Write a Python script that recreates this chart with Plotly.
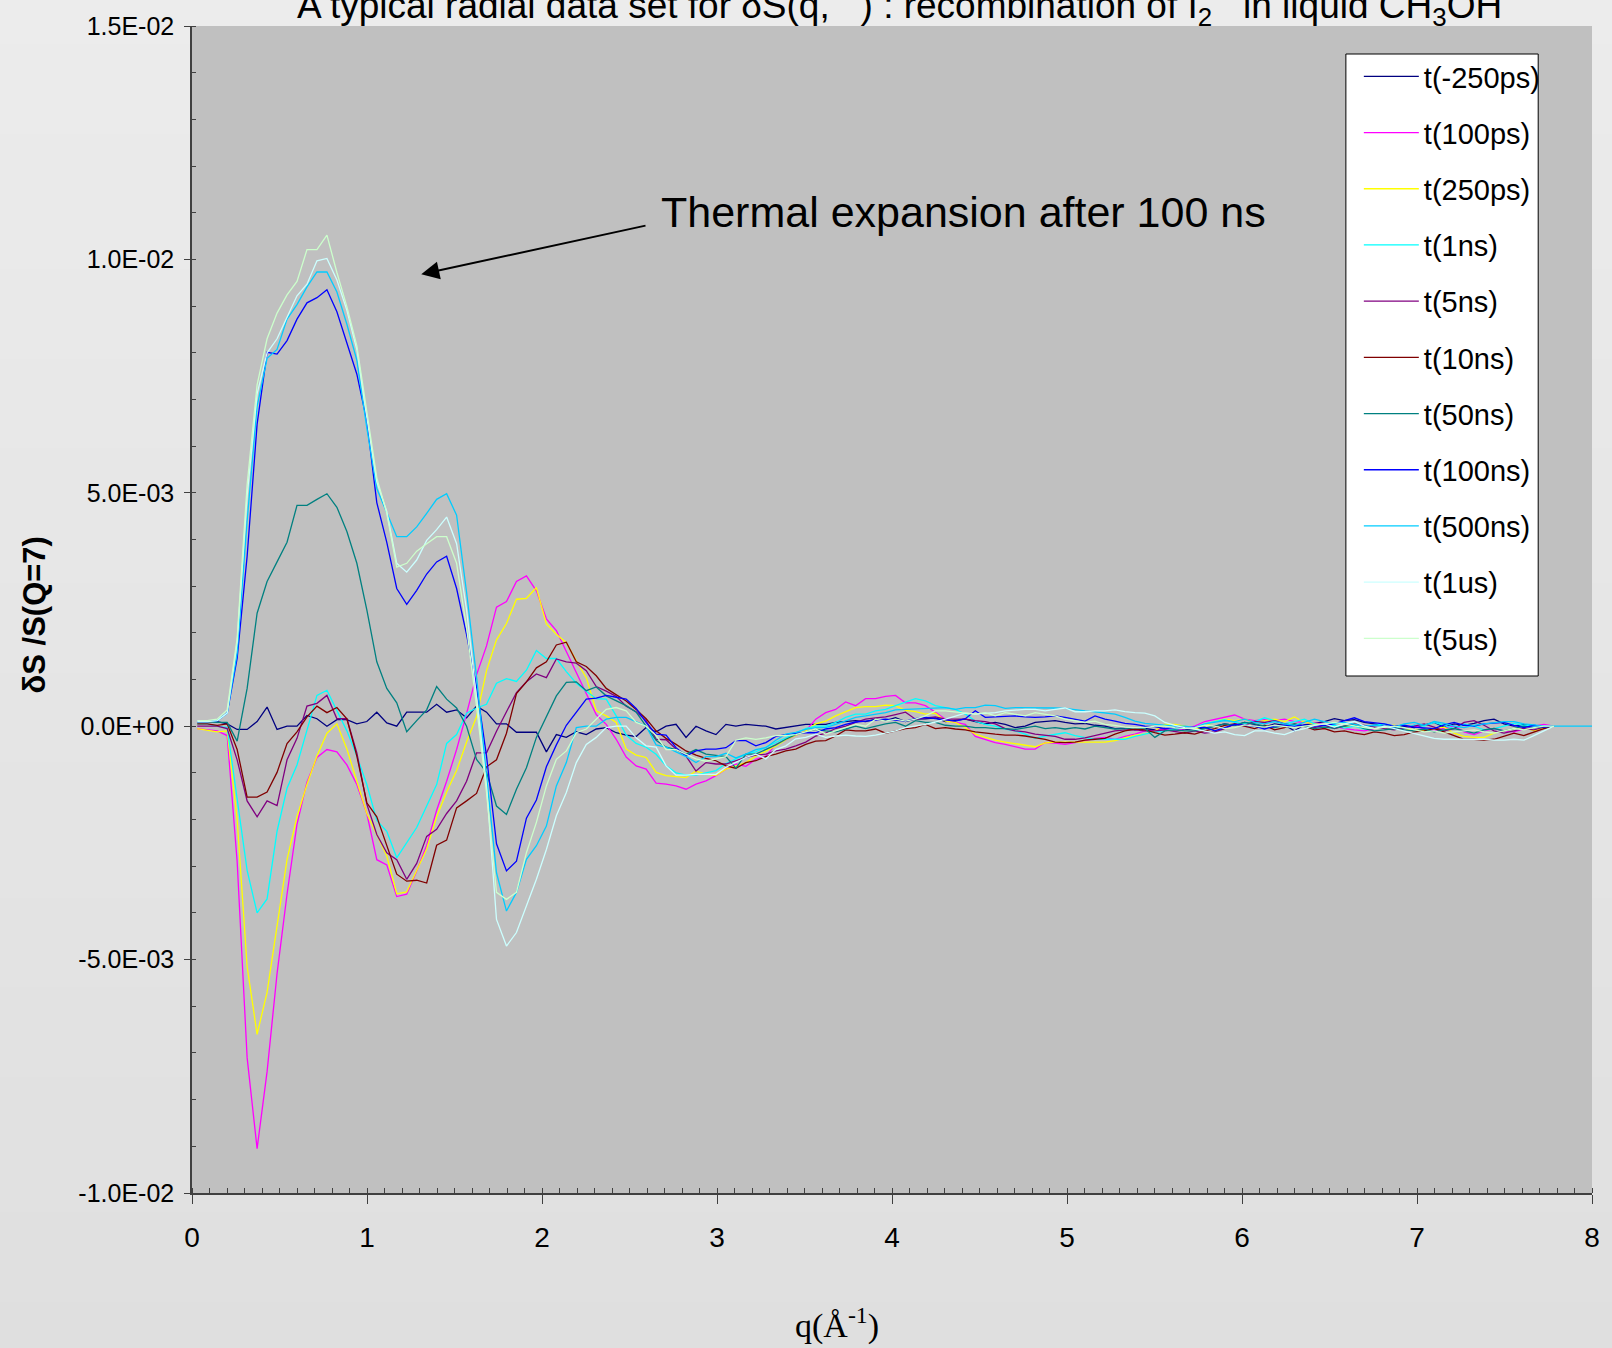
import plotly.graph_objects as go

# q grid (Å^-1)
q = [0.03, 0.087, 0.144, 0.201, 0.258, 0.315, 0.372, 0.429, 0.486, 0.543,
     0.6, 0.657, 0.714, 0.771, 0.828, 0.885, 0.942, 0.999, 1.056, 1.113,
     1.17, 1.227, 1.284, 1.341, 1.398, 1.455, 1.512, 1.569, 1.626, 1.683,
     1.74, 1.797, 1.854, 1.911, 1.968, 2.025, 2.082, 2.139, 2.196, 2.253,
     2.31, 2.367, 2.424, 2.481, 2.538, 2.595, 2.652, 2.709, 2.766, 2.823,
     2.88, 2.937, 2.994, 3.051, 3.108, 3.165, 3.222, 3.279, 3.336, 3.393,
     3.45, 3.507, 3.564, 3.621, 3.678, 3.735, 3.792, 3.849, 3.906, 3.963,
     4.02, 4.077, 4.134, 4.191, 4.248, 4.305, 4.362, 4.419, 4.476, 4.533,
     4.59, 4.647, 4.704, 4.761, 4.818, 4.875, 4.932, 4.989, 5.046, 5.103,
     5.16, 5.217, 5.274, 5.331, 5.388, 5.445, 5.502, 5.559, 5.616, 5.673,
     5.73, 5.787, 5.844, 5.901, 5.958, 6.015, 6.072, 6.129, 6.186, 6.243,
     6.3, 6.357, 6.414, 6.471, 6.528, 6.585, 6.642, 6.699, 6.756, 6.813,
     6.87, 6.927, 6.984, 7.041, 7.098, 7.155, 7.212, 7.269, 7.326, 7.383,
     7.44, 7.497, 7.554, 7.611, 7.668, 7.725, 7.782]
q_ext = [7.839, 7.896, 7.953, 8.0]   # flat tail of the t(500ns) series

# values of dS/S(Q=7) in units of 1E-03
s_m250ps = [0.1, 0.1, 0.1, 0.05, -0.07, -0.07, 0.1, 0.41, -0.07, 0.0,
            0.0, 0.23, 0.16, 0.0, 0.14, 0.14, 0.05, 0.1, 0.3, 0.07,
            0.0, 0.3, 0.3, 0.3, 0.47, 0.3, 0.35, 0.18, 0.43, 0.3,
            0.05, 0.05, -0.13, -0.13, -0.13, -0.55, -0.18, -0.24, -0.12, -0.18,
            -0.06, -0.03, -0.14, -0.19, -0.22, -0.03, -0.12, 0.0, 0.04, -0.24,
            0.0, -0.1, -0.18, 0.04, 0.0, 0.04, 0.02, 0.0, -0.06, -0.03,
            0.0, 0.04, 0.04, 0.04, 0.08, 0.1, 0.12, 0.1, 0.15, 0.12,
            0.18, 0.1, 0.15, 0.16, 0.18, 0.1, 0.12, 0.15, 0.1, 0.05,
            0.08, 0.04, -0.03, 0.0, 0.08, 0.1, 0.12, 0.08, 0.05, 0.06,
            0.02, 0.0, -0.05, -0.04, -0.08, -0.05, -0.08, -0.05, -0.1, -0.07,
            -0.06, -0.04, 0.0, 0.05, 0.02, 0.08, 0.04, -0.02, 0.05, 0.02,
            -0.1, 0.03, 0.06, 0.1, 0.16, 0.12, 0.14, 0.08, 0.05, 0.0,
            -0.02, 0.0, -0.03, 0.02, 0.08, -0.02, 0.05, 0.02, 0.06, 0.12,
            0.15, 0.05, 0.0, 0.04, -0.02, -0.03, 0.0]
s_100ps = [-0.05, -0.08, -0.1, -0.2, -2.9, -7.1, -9.05, -7.4, -5.3, -3.6,
           -2.1, -1.2, -0.67, -0.5, -0.55, -0.83, -1.25, -1.87, -2.86, -2.97,
           -3.65, -3.6, -3.1, -2.55, -1.8, -1.18, -0.5, 0.27, 1.1, 1.72,
           2.55, 2.67, 3.1, 3.22, 2.9, 2.3, 2.05, 1.6, 1.15, 0.7,
           0.25, 0.04, -0.28, -0.66, -0.85, -0.92, -1.22, -1.24, -1.28, -1.35,
           -1.24, -1.17, -1.06, -0.92, -0.81, -0.86, -0.71, -0.64, -0.39, -0.29,
           -0.19, -0.1, 0.15, 0.29, 0.36, 0.52, 0.44, 0.59, 0.59, 0.64,
           0.66, 0.5, 0.5, 0.44, 0.3, 0.15, 0.08, 0.04, -0.22, -0.28,
           -0.35, -0.39, -0.44, -0.49, -0.49, -0.35, -0.36, -0.39, -0.35, -0.31,
           -0.26, -0.24, -0.28, -0.22, -0.17, -0.1, -0.09, -0.06, -0.09, -0.05,
           0.0, 0.1, 0.15, 0.2, 0.24, 0.15, 0.12, 0.14, 0.12, 0.15,
           0.1, 0.08, 0.06, 0.05, 0.0, -0.05, -0.08, -0.1, -0.05, 0.0,
           -0.05, -0.08, 0.02, -0.06, -0.1, -0.04, 0.0, -0.12, -0.18, -0.1,
           -0.05, -0.1, -0.12, -0.06, 0.0, 0.04, 0.0]
s_250ps = [-0.05, -0.08, -0.12, -0.1, -2.0, -5.15, -6.6, -5.7, -4.3, -2.86,
           -1.94, -1.25, -0.64, -0.15, 0.05, -0.49, -1.18, -1.87, -2.32, -2.78,
           -3.59, -3.55, -3.09, -2.63, -1.94, -1.41, -0.95, -0.34, 0.2, 1.19,
           1.85, 2.2, 2.72, 2.74, 2.97, 2.19, 1.97, 1.79, 1.4, 1.04,
           0.33, 0.22, 0.08, -0.49, -0.62, -0.67, -0.99, -1.06, -1.08, -1.1,
           -0.96, -1.03, -1.05, -0.92, -0.85, -0.78, -0.64, -0.53, -0.42, -0.29,
           -0.19, -0.1, 0.05, 0.11, 0.22, 0.31, 0.4, 0.42, 0.42, 0.45,
           0.44, 0.34, 0.31, 0.26, 0.28, 0.11, 0.08, -0.03, -0.17, -0.24,
           -0.3, -0.34, -0.37, -0.41, -0.44, -0.36, -0.34, -0.34, -0.34, -0.34,
           -0.35, -0.34, -0.31, -0.25, -0.19, -0.17, -0.1, 0.04, 0.04, 0.0,
           -0.06, 0.0, 0.1, 0.15, 0.12, 0.15, 0.08, 0.12, 0.15, 0.1,
           0.2, 0.08, 0.05, 0.02, 0.0, -0.03, 0.05, 0.0, -0.05, -0.02,
           0.02, -0.05, -0.08, -0.1, -0.05, -0.02, -0.15, -0.22, -0.24, -0.24,
           -0.15, -0.1, -0.05, -0.02, -0.1, -0.04, 0.0]
s_1ns = [0.05, 0.05, 0.0, -0.03, -1.56, -3.09, -4.0, -3.7, -2.25, -1.33,
         -0.83, -0.1, 0.66, 0.77, 0.35, -0.1, -0.64, -1.25, -2.02, -2.25,
         -2.82, -2.48, -2.17, -1.71, -1.25, -0.37, -0.18, 0.28, 0.39, 0.47,
         0.92, 1.02, 0.96, 1.2, 1.62, 1.45, 1.45, 1.17, 0.92, 0.75,
         0.59, 0.58, 0.22, -0.19, -0.37, -0.45, -0.6, -0.85, -1.0, -1.05,
         -1.05, -1.0, -0.95, -0.8, -0.7, -0.6, -0.55, -0.45, -0.35, -0.25,
         -0.15, -0.05, 0.0, 0.0, 0.08, 0.19, 0.26, 0.26, 0.33, 0.36,
         0.44, 0.51, 0.59, 0.54, 0.44, 0.4, 0.36, 0.26, 0.11, 0.04,
         0.0, -0.06, -0.1, -0.17, -0.26, -0.21, -0.17, -0.14, -0.2, -0.24,
         -0.28, -0.28, -0.28, -0.28, -0.22, -0.17, -0.12, -0.1, -0.06, -0.03,
         -0.03, 0.05, 0.1, 0.14, 0.08, 0.05, 0.1, 0.18, 0.12, 0.05,
         0.1, 0.15, 0.05, 0.0, 0.02, -0.04, 0.0, -0.06, 0.02, 0.05,
         0.0, -0.05, 0.03, 0.0, 0.08, 0.02, -0.05, 0.05, 0.0, -0.08,
         -0.05, 0.0, 0.06, 0.02, 0.0, -0.02, 0.0]
s_5ns = [0.0, 0.0, 0.0, -0.05, -0.72, -1.6, -1.94, -1.6, -1.7, -0.72,
         -0.26, 0.43, 0.49, 0.66, 0.16, 0.16, -0.57, -1.67, -2.32, -2.71,
         -2.86, -3.28, -2.94, -2.36, -2.21, -1.87, -1.6, -1.18, -0.57, -0.57,
         -0.11, 0.31, 0.72, 0.95, 1.12, 1.04, 1.44, 1.38, 1.35, 1.19,
         0.85, 0.75, 0.64, 0.43, 0.31, 0.12, -0.28, -0.29, -0.49, -0.64,
         -0.96, -0.78, -0.81, -0.81, -0.74, -0.67, -0.62, -0.6, -0.53, -0.49,
         -0.42, -0.34, -0.21, -0.15, -0.05, 0.0, 0.08, 0.15, 0.18, 0.2,
         0.25, 0.3, 0.15, 0.18, 0.2, 0.15, 0.15, 0.15, 0.12, 0.1,
         0.05, -0.05, -0.1, -0.12, -0.17, -0.2, -0.22, -0.28, -0.28, -0.25,
         -0.2, -0.15, -0.1, -0.08, -0.08, -0.1, -0.1, -0.08, -0.12, -0.15,
         -0.1, -0.15, -0.12, -0.05, 0.05, 0.02, 0.1, 0.08, 0.12, 0.05,
         0.02, 0.0, -0.03, 0.02, -0.05, 0.0, 0.05, 0.02, -0.02, -0.05,
         -0.08, -0.03, 0.0, 0.05, -0.02, -0.1, -0.05, 0.08, 0.12, 0.02,
         -0.1, -0.15, -0.1, -0.05, -0.08, -0.02, 0.0]
s_10ns = [0.05, 0.05, 0.02, 0.05, -0.5, -1.52, -1.52, -1.41, -0.99, -0.37,
          -0.12, 0.2, 0.43, 0.29, 0.4, 0.16, -0.64, -1.64, -1.94, -2.55,
          -3.17, -3.32, -3.3, -3.36, -2.55, -2.44, -1.75, -1.6, -1.44, -0.87,
          -0.72, -0.15, 0.7, 0.95, 1.25, 1.38, 1.74, 1.8, 1.38, 1.28,
          1.08, 0.81, 0.67, 0.54, 0.36, 0.16, -0.1, -0.26, -0.39, -0.53,
          -0.62, -0.69, -0.74, -0.85, -0.9, -0.78, -0.74, -0.65, -0.6, -0.53,
          -0.49, -0.39, -0.32, -0.31, -0.21, -0.08, -0.1, -0.1, -0.06, -0.15,
          -0.1, -0.05, -0.03, 0.04, -0.05, -0.03, -0.06, -0.08, -0.12, -0.15,
          -0.17, -0.19, -0.19, -0.21, -0.24, -0.28, -0.34, -0.35, -0.34, -0.3,
          -0.28, -0.26, -0.17, -0.1, -0.06, -0.08, -0.14, -0.19, -0.17, -0.14,
          -0.17, -0.1, -0.05, 0.02, 0.05, 0.0, -0.05, 0.02, -0.08, -0.03,
          0.05, 0.0, -0.08, -0.05, -0.12, -0.1, -0.15, -0.18, -0.12, -0.15,
          -0.2, -0.18, -0.12, -0.1, -0.05, -0.12, -0.2, -0.28, -0.28, -0.3,
          -0.28, -0.22, -0.15, -0.2, -0.12, -0.05, 0.0]
s_50ns = [0.1, 0.1, 0.08, 0.08, -0.32, 0.81, 2.42, 3.1, 3.52, 3.94,
          4.73, 4.73, 4.86, 4.98, 4.69, 4.17, 3.49, 2.49, 1.38, 0.81,
          0.5, -0.12, 0.12, 0.35, 0.85, 0.58, 0.39, 0.0, -0.71, -0.99,
          -1.71, -1.89, -1.35, -0.89, -0.24, 0.22, 0.65, 0.94, 0.95, 0.76,
          0.84, 0.65, 0.54, 0.44, 0.3, 0.0, -0.3, -0.45, -0.5, -0.6,
          -0.5, -0.6, -0.62, -0.65, -0.9, -0.6, -0.6, -0.5, -0.4, -0.28,
          -0.18, -0.12, -0.07, -0.1, -0.12, -0.06, 0.0, -0.05, 0.0, 0.05,
          0.08, 0.0, 0.12, 0.08, 0.08, 0.02, 0.0, 0.0, -0.03, -0.03,
          -0.05, -0.05, -0.07, -0.03, 0.0, -0.05, -0.03, -0.06, -0.03, -0.06,
          0.0, -0.03, -0.06, -0.05, -0.03, -0.05, -0.24, -0.1, -0.08, -0.1,
          -0.1, -0.05, 0.0, 0.05, 0.02, 0.08, 0.05, 0.0, -0.03, 0.02,
          0.05, 0.0, -0.05, -0.02, -0.04, 0.0, 0.03, -0.05, -0.1, -0.08,
          -0.05, -0.08, -0.1, -0.06, -0.12, -0.08, -0.05, -0.1, -0.15, -0.08,
          -0.05, -0.1, -0.05, 0.0, -0.03, -0.02, 0.0]
s_100ns = [0.1, 0.1, 0.12, 0.28, 1.46, 3.64, 6.47, 8.01, 7.97, 8.26,
           8.72, 9.07, 9.18, 9.35, 8.88, 8.23, 7.54, 6.54, 4.79, 3.94,
           2.95, 2.61, 2.91, 3.26, 3.52, 3.64, 2.95, 1.96, 0.85, -0.64,
           -2.52, -3.1, -2.89, -1.97, -1.58, -0.87, -0.4, 0.02, 0.3, 0.58,
           0.6, 0.66, 0.62, 0.58, 0.38, 0.08, -0.17, -0.19, -0.46, -0.64,
           -0.53, -0.49, -0.49, -0.46, -0.31, -0.31, -0.42, -0.35, -0.22, -0.19,
           -0.15, -0.14, -0.14, -0.06, -0.03, 0.04, 0.09, 0.11, 0.13, 0.15,
           0.13, 0.11, 0.16, 0.19, 0.16, 0.13, 0.11, 0.16, 0.33, 0.19,
           0.2, 0.22, 0.22, 0.2, 0.19, 0.2, 0.22, 0.19, 0.15, 0.11,
           0.22, 0.15, 0.11, 0.06, 0.04, 0.0, -0.01, -0.05, -0.03, -0.03,
           -0.03, -0.02, -0.1, -0.03, 0.04, 0.02, 0.0, -0.06, 0.0, 0.02,
           0.0, 0.03, 0.0, 0.02, 0.05, 0.12, 0.18, 0.1, 0.08, 0.05,
           0.0, 0.02, -0.02, -0.03, -0.05, 0.03, 0.08, 0.02, 0.0, 0.05,
           0.06, 0.08, 0.02, -0.03, 0.02, -0.02, 0.0]
s_500ns = [0.1, 0.1, 0.12, 0.28, 1.57, 4.4, 6.85, 7.88, 8.07, 8.72,
           9.03, 9.41, 9.73, 9.73, 9.3, 8.61, 7.84, 6.39, 5.09, 4.56,
           4.06, 4.06, 4.27, 4.56, 4.86, 4.98, 4.52, 2.87, 1.05, -1.06,
           -3.14, -3.96, -3.56, -2.85, -2.56, -2.14, -1.28, -0.78, -0.03, 0.0,
           0.0, 0.15, 0.19, 0.19, 0.1, 0.0, -0.4, -0.45, -0.55, -0.65,
           -0.78, -0.65, -0.65, -0.58, -0.68, -0.6, -0.5, -0.46, -0.3, -0.17,
           -0.13, -0.07, -0.03, -0.03, 0.04, 0.11, 0.19, 0.22, 0.26, 0.29,
           0.35, 0.36, 0.38, 0.39, 0.4, 0.4, 0.36, 0.4, 0.4, 0.45,
           0.44, 0.38, 0.4, 0.4, 0.4, 0.4, 0.39, 0.38, 0.35, 0.33,
           0.31, 0.29, 0.26, 0.19, 0.11, 0.06, 0.04, 0.02, 0.0, 0.0,
           -0.03, 0.05, 0.08, 0.12, 0.1, 0.15, 0.08, 0.05, 0.1, 0.05,
           0.02, 0.08, 0.15, 0.1, 0.05, 0.08, 0.04, 0.0, 0.02, 0.0,
           -0.02, 0.05, 0.08, 0.02, 0.1, 0.06, 0.0, -0.03, 0.02, 0.05,
           0.08, 0.1, 0.1, 0.05, 0.03, 0.0, 0.0]
s_500ns_ext = [0.0, 0.0, 0.0, 0.0]
s_1us = [0.1, 0.1, 0.12, 0.28, 1.8, 4.94, 7.12, 8.0, 8.3, 8.76,
         9.22, 9.47, 9.97, 10.02, 9.56, 8.91, 8.07, 6.62, 5.24, 4.6,
         3.49, 3.3, 3.56, 3.98, 4.21, 4.48, 3.91, 2.49, 0.58, -1.28,
         -4.14, -4.71, -4.42, -3.85, -3.28, -2.64, -1.92, -1.42, -0.78, -0.39,
         -0.24, -0.03, 0.0, 0.0, -0.25, -0.42, -0.45, -0.85, -1.05, -1.05,
         -1.03, -1.03, -1.03, -0.88, -0.78, -0.67, -0.6, -0.7, -0.5, -0.42,
         -0.27, -0.24, -0.17, -0.24, -0.21, -0.19, -0.21, -0.22, -0.19, -0.14,
         -0.1, -0.03, 0.0, 0.04, 0.09, 0.15, 0.21, 0.28, 0.26, 0.28,
         0.29, 0.33, 0.35, 0.36, 0.36, 0.33, 0.36, 0.39, 0.31, 0.31,
         0.33, 0.33, 0.35, 0.31, 0.29, 0.28, 0.22, 0.08, 0.02, -0.03,
         -0.06, -0.1, -0.15, -0.12, -0.18, -0.2, -0.1, -0.1, -0.15, -0.18,
         -0.1, -0.05, 0.02, 0.05, -0.02, 0.05, 0.1, 0.0, -0.05, 0.0,
         -0.05, -0.1, -0.15, -0.2, -0.26, -0.28, -0.28, -0.28, -0.28, -0.28,
         -0.3, -0.3, -0.28, -0.3, -0.2, -0.1, 0.0]
s_5us = [0.12, 0.12, 0.15, 0.35, 1.88, 5.17, 7.31, 8.3, 8.85, 9.24,
         9.53, 10.21, 10.21, 10.52, 9.72, 8.99, 8.15, 6.7, 5.32, 4.56,
         3.41, 3.49, 3.75, 3.91, 4.06, 4.06, 3.49, 2.11, 0.43, -1.42,
         -3.56, -3.71, -3.56, -2.71, -2.06, -1.28, -0.71, -0.53, -0.14, -0.06,
         0.16, 0.36, 0.4, 0.33, 0.08, 0.0, -0.2, -0.5, -0.5, -0.6,
         -0.7, -0.75, -0.7, -0.65, -0.3, -0.25, -0.28, -0.25, -0.2, -0.2,
         -0.18, -0.12, -0.06, -0.17, -0.1, -0.03, 0.04, 0.0, 0.15, 0.11,
         0.15, 0.11, 0.15, 0.22, 0.33, 0.33, 0.31, 0.29, 0.26, 0.29,
         0.22, 0.29, 0.26, 0.22, 0.29, 0.26, 0.22, 0.15, 0.11, 0.08,
         0.11, 0.04, 0.02, -0.02, -0.03, -0.03, 0.0, 0.0, -0.03, -0.05,
         -0.03, 0.02, 0.0, -0.05, -0.03, 0.03, 0.0, -0.02, 0.02, 0.0,
         -0.03, 0.0, 0.02, 0.05, 0.08, 0.04, 0.0, -0.03, -0.05, -0.02,
         0.0, -0.03, -0.08, -0.12, -0.1, -0.15, -0.12, -0.1, -0.08, -0.12,
         -0.15, -0.1, -0.05, -0.08, -0.03, 0.0, 0.0]

names = ["t(-250ps)", "t(100ps)", "t(250ps)", "t(1ns)", "t(5ns)", "t(10ns)",
         "t(50ns)", "t(100ns)", "t(500ns)", "t(1us)", "t(5us)"]
colors = ["#000080", "#FF00FF", "#FFFF00", "#00FFFF", "#800080", "#800000",
          "#008080", "#0000FF", "#00CCFF", "#CCFFFF", "#CCFFCC"]
series = [s_m250ps, s_100ps, s_250ps, s_1ns, s_5ns, s_10ns,
          s_50ns, s_100ns, s_500ns, s_1us, s_5us]

ytick_vals = [-10, -5, 0, 5, 10, 15]
ytick_text = ["-1.0E-02", "-5.0E-03", "0.0E+00", "5.0E-03", "1.0E-02", "1.5E-02"]
xtick_vals = [0, 1, 2, 3, 4, 5, 6, 7, 8]

fig = go.Figure()
for nm, col, ys in zip(names, colors, series):
    xs = list(q)
    yv = list(ys)
    if nm == "t(500ns)":
        xs = xs + q_ext
        yv = yv + s_500ns_ext
    fig.add_trace(go.Scatter(x=xs, y=yv, mode="lines", name=nm,
                             legendgroup=nm,
                             line=dict(color=col, width=1.3)))

# layout geometry (pixels)
L, R, T, B, W, H = 192, 15, 26, 155, 1612, 1348
pw, ph = W - L - R, H - T - B

def px(xp):
    return (xp - L) / pw

def py(yp):
    return (H - B - yp) / ph

# background gradient (page) + plot area fill
shapes = []
nb = 30
top_y, bot_y = py(0), py(H)
for k in range(nb):
    y0 = top_y - (top_y - bot_y) * k / nb
    y1 = top_y - (top_y - bot_y) * (k + 1) / nb
    c = int(round(236 - 13 * (k + 0.5) / nb))
    shapes.append(dict(type="rect", xref="paper", yref="paper",
                       x0=px(-20), x1=px(W + 20), y0=y1, y1=y0 + 0.001,
                       fillcolor=f"rgb({c},{c},{c})", line=dict(width=0),
                       layer="below"))
shapes.append(dict(type="rect", xref="x domain", yref="y domain",
                   x0=0, x1=1, y0=0, y1=1, fillcolor="#C0C0C0",
                   line=dict(width=0), layer="below"))
# legend frame
shapes.append(dict(type="rect", xref="paper", yref="paper",
                   x0=px(1350), x1=px(1543), y0=py(676), y1=py(54),
                   fillcolor="#FFFFFF", line=dict(color="#000000", width=1),
                   layer="above"))

narrow = "Liberation Sans Narrow, Arial Narrow, Liberation Sans, Arial, sans-serif"
sans = "Liberation Sans, Arial, sans-serif"

fig.update_layout(
    width=W, height=H,
    margin=dict(l=L, r=R, t=T, b=B),
    paper_bgcolor="#E6E6E6",
    plot_bgcolor="rgba(0,0,0,0)",
    shapes=shapes,
    showlegend=True,
    legend=dict(x=px(1363), y=py(51), xanchor="left", yanchor="top",
                bgcolor="rgba(0,0,0,0)", borderwidth=0,
                font=dict(family=sans, size=29, color="#000000"),
                tracegroupgap=15.5, itemwidth=55, traceorder="grouped"),
    xaxis=dict(range=[0, 8], tickvals=xtick_vals, ticks="outside", ticklen=9,
               tickcolor="#404040", showgrid=False, zeroline=False,
               showline=True, linecolor="#404040", linewidth=1.5,
               tickfont=dict(family=sans, size=28, color="#000000"),
               ticklabelstandoff=10,
               minor=dict(dtick=0.1, ticks="inside", ticklen=5, tickcolor="#404040",
                          showgrid=False)),
    yaxis=dict(range=[-10, 15], tickvals=ytick_vals, ticktext=ytick_text,
               ticks="outside", ticklen=6, tickcolor="#404040",
               showgrid=False, zeroline=False, showline=True,
               linecolor="#404040", linewidth=1.5,
               tickfont=dict(family=narrow, size=25, color="#000000"),
               ticklabelstandoff=5,
               minor=dict(dtick=1, ticks="inside", ticklen=4, tickcolor="#404040",
                          showgrid=False)),
    annotations=[
        dict(text="A typical radial data set for δS(q,\u00a0\u00a0\u00a0) : recombination of I<sub>2</sub>\u00a0\u00a0\u00a0in liquid CH<sub>3</sub>OH",
             xref="paper", yref="paper", x=px(902), y=py(8.4), xanchor="center",
             yanchor="middle", showarrow=False,
             font=dict(family=sans, size=37, color="#000000")),
        dict(text="<b>δS /S(Q=7)</b>", xref="paper", yref="paper",
             x=px(34), y=py(615), xanchor="center", yanchor="middle",
             textangle=-90, showarrow=False,
             font=dict(family=sans, size=31, color="#000000")),
        dict(text="q(Å<sup>-1</sup>)", xref="paper", yref="paper",
             x=px(839), y=py(1323), xanchor="center", yanchor="middle",
             showarrow=False,
             font=dict(family="Liberation Serif, Times New Roman, serif", size=34,
                       color="#000000")),
        dict(text="Thermal expansion after 100 ns", xref="x", yref="y",
             x=4.41, y=11.01, xanchor="center", yanchor="middle",
             showarrow=False, font=dict(family=sans, size=43, color="#000000")),
        dict(text="", xref="x", yref="y", x=1.31, y=9.68,
             ax=2.60, ay=10.73, axref="x", ayref="y",
             showarrow=True, arrowhead=2, arrowsize=1.8, arrowwidth=2,
             arrowcolor="#000000"),
    ],
)

fig.write_html(
    "out.html",
    config={"displayModeBar": False},
    post_script="document.body.style.margin='0';document.body.style.overflow='hidden';"
                "document.body.style.background='#E6E6E6';",
)
